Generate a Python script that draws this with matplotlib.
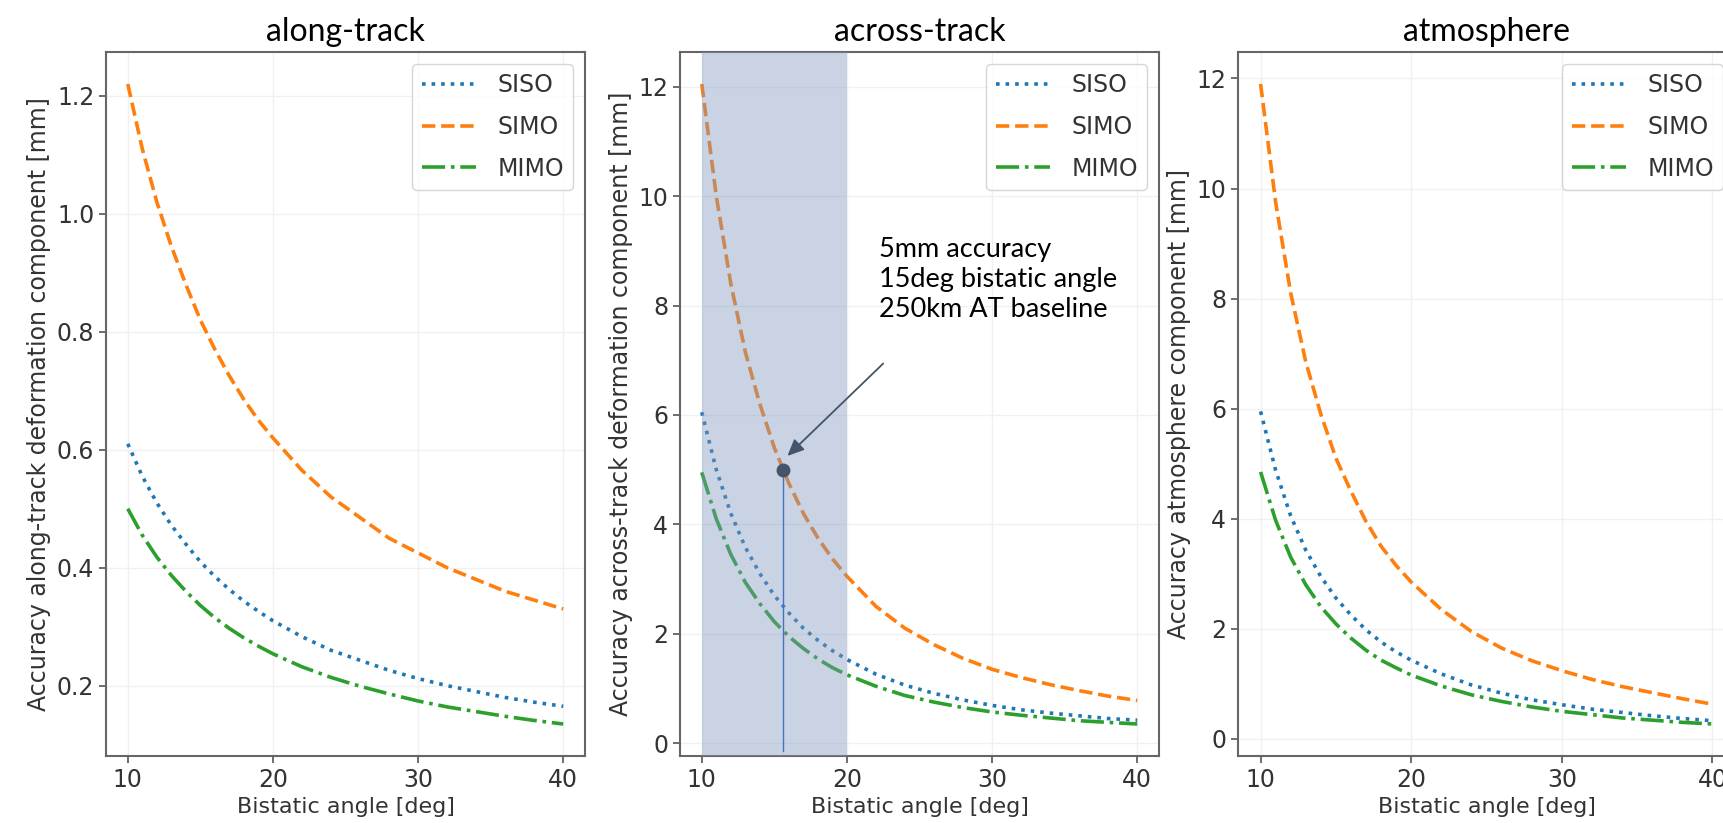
import numpy as np
import matplotlib
matplotlib.use('Agg')
import matplotlib.pyplot as plt
from matplotlib.ticker import MultipleLocator

# bistatic angle [deg]
angle = [10, 11, 12, 13, 14, 15, 16, 17, 18, 19, 20, 22, 24, 26, 28, 30, 32, 34, 36, 38, 40]

# along-track deformation component [mm]
along_siso = [0.61, 0.555, 0.51, 0.472, 0.44, 0.41, 0.385, 0.363, 0.343, 0.326, 0.31,
              0.283, 0.26, 0.243, 0.226, 0.212, 0.2, 0.19, 0.18, 0.172, 0.165]
along_simo = [1.22, 1.11, 1.02, 0.945, 0.88, 0.82, 0.77, 0.725, 0.685, 0.65, 0.62,
              0.565, 0.52, 0.485, 0.45, 0.425, 0.40, 0.38, 0.36, 0.345, 0.33]
along_mimo = [0.50, 0.455, 0.418, 0.387, 0.36, 0.336, 0.315, 0.297, 0.281, 0.267, 0.254,
              0.232, 0.214, 0.199, 0.186, 0.174, 0.164, 0.156, 0.148, 0.141, 0.135]

# across-track deformation component [mm]
across_siso = [6.05, 5.0, 4.2, 3.58, 3.1, 2.7, 2.38, 2.1, 1.88, 1.69, 1.53,
               1.26, 1.06, 0.91, 0.79, 0.69, 0.61, 0.55, 0.5, 0.45, 0.42]
across_simo = [12.05, 10.0, 8.4, 7.15, 6.2, 5.4, 4.75, 4.2, 3.75, 3.37, 3.05,
               2.5, 2.1, 1.8, 1.55, 1.35, 1.2, 1.07, 0.96, 0.86, 0.78]
across_mimo = [4.95, 4.1, 3.45, 2.94, 2.55, 2.22, 1.95, 1.73, 1.54, 1.38, 1.25,
               1.04, 0.87, 0.75, 0.65, 0.57, 0.51, 0.46, 0.41, 0.38, 0.35]

# atmosphere component [mm]
atm_siso = [5.95, 4.88, 4.05, 3.43, 2.95, 2.56, 2.25, 1.98, 1.76, 1.58, 1.43,
            1.18, 0.98, 0.83, 0.71, 0.62, 0.54, 0.48, 0.42, 0.37, 0.33]
atm_simo = [11.9, 9.75, 8.1, 6.85, 5.9, 5.1, 4.5, 3.95, 3.5, 3.15, 2.85,
            2.35, 1.95, 1.65, 1.42, 1.24, 1.08, 0.95, 0.84, 0.73, 0.63]
atm_mimo = [4.85, 3.97, 3.3, 2.8, 2.4, 2.09, 1.83, 1.61, 1.43, 1.29, 1.16,
            0.96, 0.8, 0.68, 0.58, 0.5, 0.44, 0.38, 0.34, 0.3, 0.27]

titles = ['along-track', 'across-track', 'atmosphere']
ylabels = ['Accuracy along-track deformation component [mm]',
           'Accuracy across-track deformation component [mm]',
           'Accuracy atmosphere component [mm]']
labels = ['SISO', 'SIMO', 'MIMO']

# highlighted design point on the across-track panel
shade_range = (10, 20)
design_angle = 15.6
design_acc = 5.0
design_text = '5mm accuracy\n15deg bistatic angle\n250km AT baseline'

plt.rcParams['font.family'] = ['DejaVu Sans']
plt.rcParams['text.color'] = '#333333'
plt.rcParams['axes.labelcolor'] = '#333333'
plt.rcParams['xtick.color'] = '#555555'
plt.rcParams['ytick.color'] = '#555555'
plt.rcParams['xtick.labelcolor'] = '#333333'
plt.rcParams['ytick.labelcolor'] = '#333333'

W, H = 1723, 823
fig = plt.figure(figsize=(W / 100, H / 100), dpi=100)


def box(l, r, t=52, b=756):
    return [l / W, 1 - b / H, (r - l) / W, (b - t) / H]


boxes = [box(106, 585), box(680, 1159), box(1238, 1735)]
data = [(along_siso, along_simo, along_mimo),
        (across_siso, across_simo, across_mimo),
        (atm_siso, atm_simo, atm_mimo)]
styles = [(':', 'C0'), ('--', 'C1'), ('-.', 'C2')]

axes = []
for i in range(3):
    ax = fig.add_axes(boxes[i])
    for series, lab, (ls, c) in zip(data[i], labels, styles):
        ax.plot(angle, series, ls=ls, color=c, lw=2.6, label=lab)
    ax.grid(True, color='#f0f0f0', lw=1)
    ax.set_axisbelow(True)
    ax.xaxis.set_major_locator(MultipleLocator(10))
    ax.set_xlabel('Bistatic angle [deg]', fontsize=16)
    ax.set_ylabel(ylabels[i], fontsize=17)
    ax.set_title(titles[i], fontsize=23, family=['Lato', 'DejaVu Sans'], color='black', pad=8)
    ax.tick_params(labelsize=17, width=1.2, length=5)
    for s in ax.spines.values():
        s.set_color('#666666')
        s.set_linewidth(1.5)
    ax.legend(loc='upper right', fontsize=17, handlelength=2.3, handletextpad=0.9,
              labelspacing=0.75)
    axes.append(ax)

ax = axes[1]
ylim = ax.get_ylim()
ax.axvspan(shade_range[0], shade_range[1], color='#7f96c0', alpha=0.42, lw=0, zorder=3)
ax.plot([design_angle, design_angle], [ylim[0] + 0.1, design_acc], color='#4472c4', lw=1, zorder=4)
ax.plot([design_angle], [design_acc], 'o', color='#44546a', ms=9, zorder=5)
ax.annotate('', xy=(design_angle + 0.3, design_acc + 0.25), xytext=(22.5, 6.94),
            arrowprops=dict(arrowstyle='-|>,head_length=1.0,head_width=0.45',
                            color='#44546a', lw=1.3, shrinkA=0, shrinkB=0), zorder=5)
ax.text(22.2, 9.25, design_text, va='top', ha='left', fontsize=19.5, linespacing=1.25,
        family=['Lato', 'DejaVu Sans'], color='black', zorder=5)
ax.set_ylim(ylim)

fig.savefig('out.png', dpi=100)
